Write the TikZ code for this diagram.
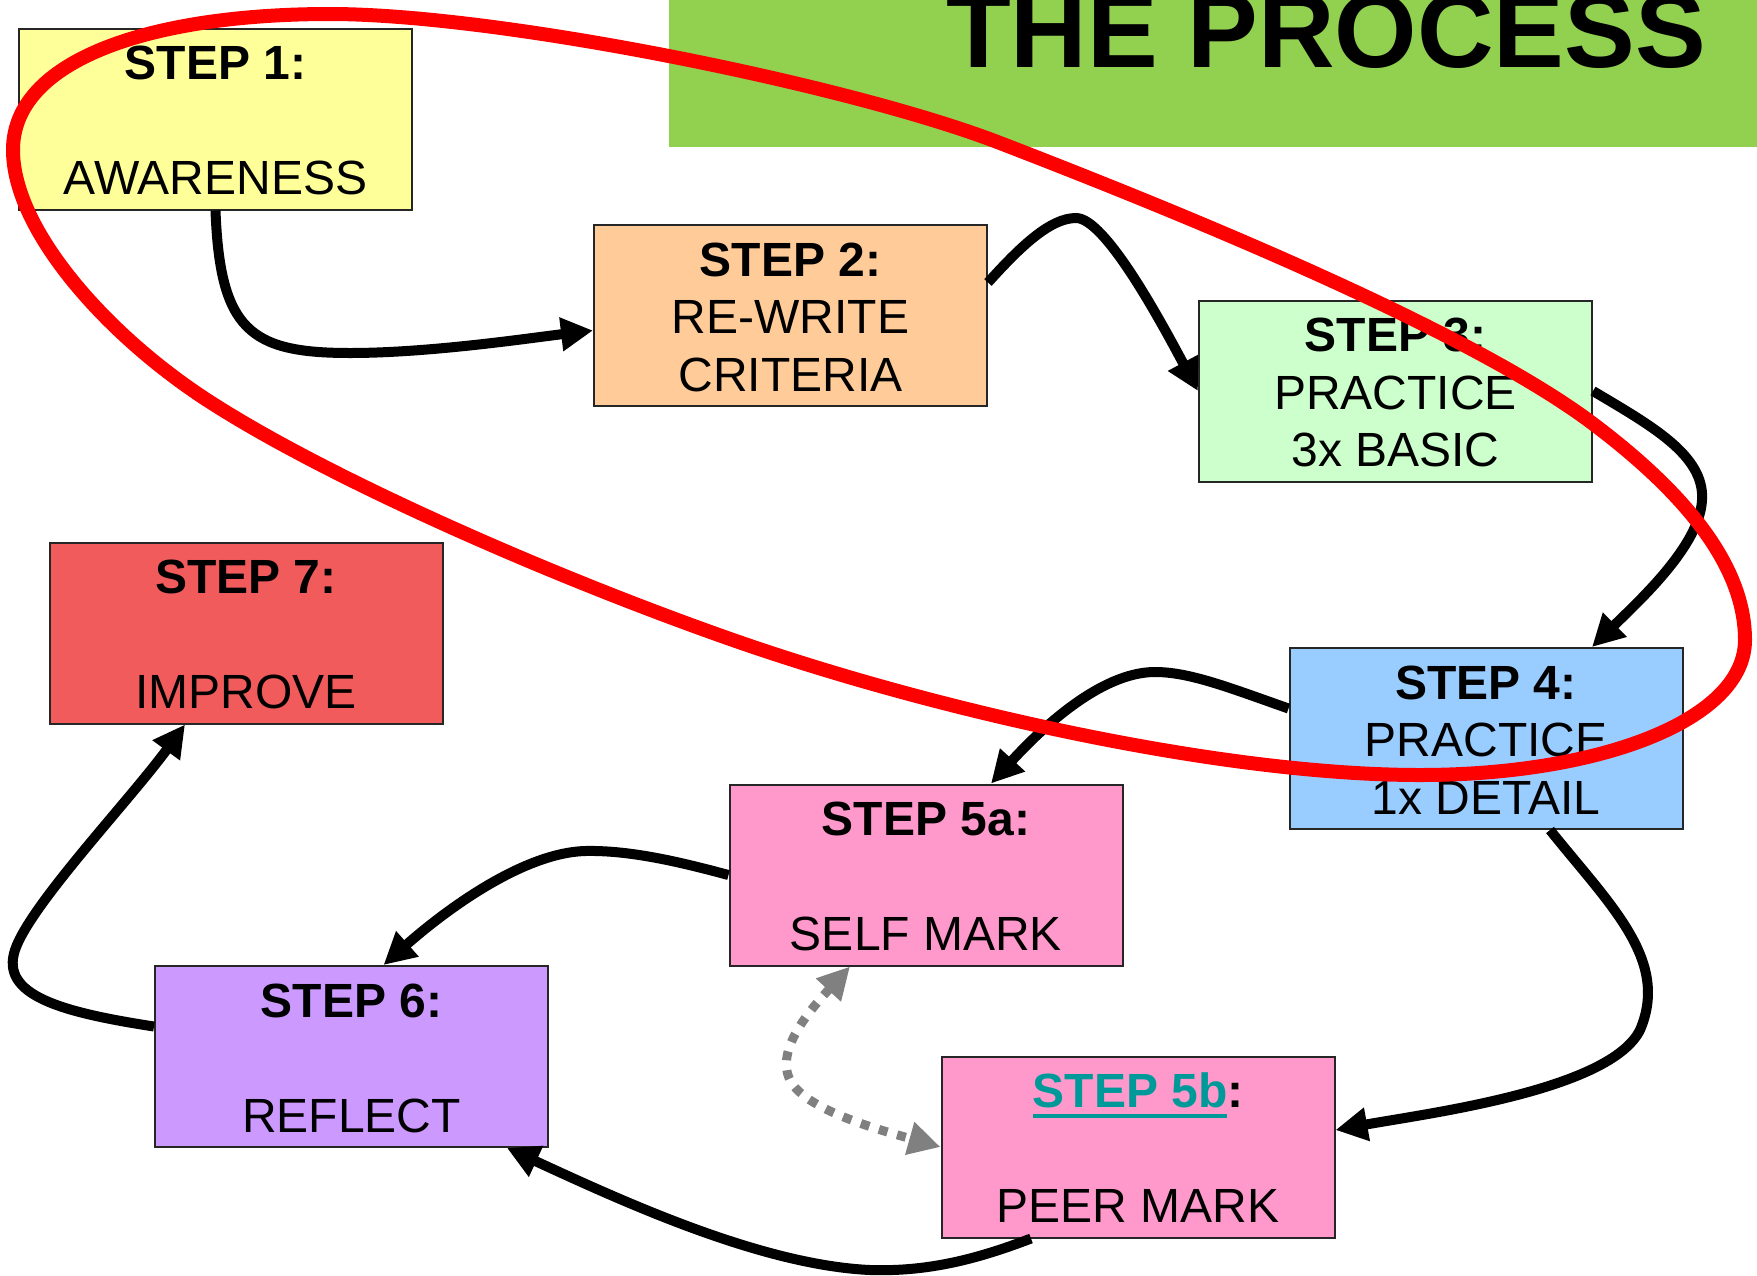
\documentclass[tikz,border=0pt]{standalone}
\usepackage{fontspec}
\setmainfont{Liberation Sans}
\usetikzlibrary{arrows.meta,calc}
\definecolor{bannergreen}{RGB}{146,208,80}
\definecolor{cone}{RGB}{255,255,153}
\definecolor{ctwo}{RGB}{255,204,153}
\definecolor{cthree}{RGB}{204,255,204}
\definecolor{cfour}{RGB}{153,204,255}
\definecolor{cfive}{RGB}{255,153,204}
\definecolor{csix}{RGB}{204,153,255}
\definecolor{cseven}{RGB}{242,91,91}
\definecolor{tealfive}{RGB}{0,153,153}
\definecolor{dotgray}{RGB}{128,128,128}
\newcommand\boxtext[3]{\parbox[c][90.5pt][t]{196pt}{\centering\fontsize{24pt}{28.75pt}\selectfont\rule{0pt}{25.5pt}\textbf{#1}\\\mbox{}#2\\#3}}
\newcommand\tealul[1]{\textcolor{tealfive}{\setbox0\hbox{#1}\rlap{\rule[-5pt]{\wd0}{2pt}}\box0}}
\begin{document}
\begin{tikzpicture}[x=0.5pt,y=-0.5pt,
    procbox/.style={draw=black!85,line width=1pt,inner sep=0pt,minimum width=196.5pt,minimum height=90.5pt},
    conn/.style={line width=5pt,-{Triangle[length=16pt,width=16pt]}},
    peer/.style={draw=dotgray,line width=4.5pt,dash pattern=on 4.5pt off 5pt,{Triangle[length=16pt,width=16pt]}-{Triangle[length=16pt,width=16pt]}}]
    \clip (0,0) rectangle (1757,1275);
    \fill [bannergreen] (669,-10) rectangle (1770,147);
    \node [font=\bfseries\fontsize{53pt}{60pt}\selectfont,anchor=base,inner sep=0pt] (title) at(1326,67) {THE PROCESS};
    \node [procbox,fill=cone] (s1) at(215.5,119) {\boxtext{STEP 1:}{}{AWARENESS}};
    \node [procbox,fill=ctwo] (s2) at(790.5,315.5) {\boxtext{STEP 2:}{RE-WRITE}{CRITERIA}};
    \node [procbox,fill=cthree] (s3) at(1395.5,391) {\boxtext{STEP 3:}{PRACTICE}{3x BASIC}};
    \node [procbox,fill=cfour] (s4) at(1486,738.5) {\boxtext{STEP 4:}{PRACTICE}{1x DETAIL}};
    \node [procbox,fill=cfive] (s5a) at(926,875) {\boxtext{STEP 5a:}{}{SELF MARK}};
    \node [procbox,fill=cfive] (s5b) at(1138,1147) {\boxtext{\tealul{STEP 5b}:}{}{PEER MARK}};
    \node [procbox,fill=csix] (s6) at(351.5,1056.5) {\boxtext{STEP 6:}{}{REFLECT}};
    \node [procbox,fill=cseven] (s7) at(246,633) {\boxtext{STEP 7:}{}{IMPROVE}};
    \draw [conn] (s1.south) .. controls (220,330) and (250,353) .. (350,353) .. controls (430,353) and (530,338) .. ($(s2.west)+(0,15)$);
    \draw [conn] ($(s2.east)+(0,-33)$) .. controls (1020,247) and (1050,218) .. (1076,218) .. controls (1105,218) and (1160,320) .. (s3.west);
    \draw [conn] (s3.east) .. controls (1650,425) and (1705,455) .. (1702,500) .. controls (1700,545) and (1640,600) .. ($(s4.north)+(106,0)$);
    \draw [conn] ($(s4.west)+(0,-30)$) .. controls (1230,688) and (1190,672) .. (1155,672) .. controls (1100,672) and (1040,730) .. ($(s5a.north)+(65,0)$);
    \draw [conn] ($(s4.south)+(64,0)$) .. controls (1610,905) and (1670,960) .. (1640,1030) .. controls (1610,1090) and (1430,1113) .. ($(s5b.east)+(0,-17)$);
    \draw [conn] (s5a.west) .. controls (680,862) and (630,850) .. (585,851) .. controls (520,853) and (440,915) .. ($(s6.north)+(32,0)$);
    \draw [conn] ($(s5b.south)+(-107,0)$) .. controls (980,1258) and (930,1272) .. (870,1270) .. controls (760,1265) and (620,1200) .. ($(s6.south east)+(-42,0)$);
    \draw [conn] ($(s6.west)+(0,-30)$) .. controls (60,1012) and (0,995) .. (15,950) .. controls (30,905) and (130,800) .. ($(s7.south)+(-61,0)$);
    \draw [peer] ($(s5a.south)+(-76,0)$) .. controls (810,1010) and (775,1050) .. (790,1080) .. controls (805,1110) and (880,1130) .. (s5b.west);
    \draw [red,line width=7pt] (13,150) .. controls (13,60) and (150,14) .. (330,14) .. controls (500,14) and (850,85) .. (1000,143) .. controls (1200,220) and (1472,333) .. (1592,423) .. controls (1692,498) and (1745,570) .. (1745,640) .. controls (1745,720) and (1600,775) .. (1420,775) .. controls (1220,775) and (933,710) .. (733,640) .. controls (553,577) and (327,478) .. (207,400) .. controls (107,335) and (13,230) .. cycle;
\end{tikzpicture}
\end{document}
